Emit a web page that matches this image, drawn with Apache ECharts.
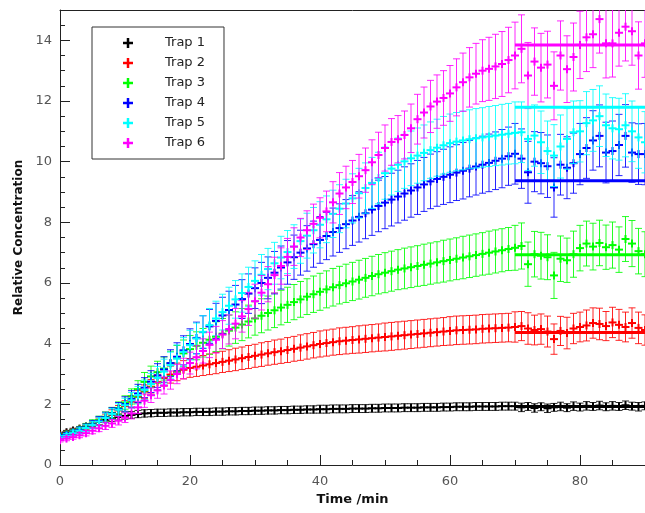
<!DOCTYPE html>
<html>
<head>
<meta charset="utf-8">
<script src="https://cdn.jsdelivr.net/npm/echarts@6/dist/echarts.min.js"></script>
<style>html,body{margin:0;padding:0;background:#fff}#c{width:645px;height:513px}</style>
</head>
<body>
<div id="c"></div>
<script>
const times = [0,1,2,3,4,5,6,7,8,9,10,11,12,13,14,15,16,17,18,19,20,21,22,23,24,25,26,27,28,29,30,31,32,33,34,35,36,37,38,39,40,41,42,43,44,45,46,47,48,49,50,51,52,53,54,55,56,57,58,59,60,61,62,63,64,65,66,67,68,69,70,71,72,73,74,75,76,77,78,79,80,81,82,83,84,85,86,87,88,89,90];
const seriesNames = ['Trap 1','Trap 2','Trap 3','Trap 4','Trap 5','Trap 6'];
const xTickValues = [0,20,40,60,80];
const yTickValues = [0,2,4,6,8,10,12,14];

const trap1 = [1.02,1.08,1.14,1.20,1.27,1.34,1.42,1.49,1.54,1.58,
 1.62,1.65,1.68,1.70,1.71,1.72,1.72,1.73,1.73,1.74,
 1.74,1.75,1.75,1.75,1.76,1.76,1.77,1.77,1.78,1.78,
 1.79,1.79,1.80,1.80,1.81,1.81,1.82,1.82,1.83,1.83,
 1.84,1.84,1.85,1.85,1.85,1.86,1.86,1.86,1.87,1.87,
 1.88,1.88,1.88,1.89,1.89,1.89,1.90,1.90,1.90,1.91,
 1.91,1.92,1.92,1.92,1.93,1.93,1.93,1.93,1.94,1.94,
 1.94,1.90,1.93,1.88,1.92,1.87,1.90,1.93,1.89,1.94,
 1.91,1.95,1.93,1.96,1.92,1.95,1.93,1.97,1.94,1.92,1.95];
const trap2 = [0.97,1.03,1.10,1.17,1.25,1.34,1.44,1.55,1.67,1.80,
 1.94,2.09,2.25,2.42,2.58,2.73,2.87,2.98,3.07,3.14,
 3.20,3.24,3.28,3.32,3.36,3.40,3.44,3.48,3.52,3.56,
 3.60,3.64,3.68,3.72,3.75,3.79,3.83,3.87,3.91,3.95,
 3.99,4.02,4.05,4.08,4.10,4.12,4.14,4.16,4.18,4.20,
 4.22,4.24,4.26,4.28,4.30,4.32,4.34,4.36,4.38,4.40,
 4.42,4.44,4.45,4.46,4.47,4.49,4.50,4.51,4.52,4.53,
 4.55,4.58,4.50,4.45,4.48,4.40,4.15,4.42,4.35,4.50,
 4.55,4.60,4.68,4.65,4.58,4.70,4.62,4.55,4.68,4.52,4.45];
const trap3 = [0.96,1.02,1.09,1.17,1.26,1.36,1.47,1.59,1.72,1.88,
 2.06,2.26,2.50,2.74,2.92,3.06,3.18,3.35,3.52,3.68,
 3.82,3.93,4.03,4.13,4.23,4.33,4.43,4.53,4.63,4.73,
 4.83,4.92,5.01,5.10,5.19,5.28,5.37,5.46,5.55,5.63,
 5.71,5.79,5.86,5.93,5.99,6.05,6.11,6.17,6.23,6.29,
 6.34,6.39,6.44,6.48,6.52,6.56,6.60,6.64,6.68,6.72,
 6.76,6.80,6.84,6.88,6.92,6.96,7.00,7.04,7.08,7.12,
 7.16,7.22,6.62,6.95,6.90,6.85,6.25,6.80,6.75,6.95,
 7.15,7.30,7.20,7.32,7.18,7.25,7.10,7.45,7.30,7.05,6.95];
const trap4 = [0.94,1.00,1.07,1.15,1.24,1.34,1.45,1.57,1.70,1.85,
 2.01,2.18,2.36,2.55,2.75,2.95,3.15,3.36,3.57,3.78,
 3.99,4.19,4.38,4.57,4.75,4.93,5.11,5.29,5.47,5.65,
 5.83,6.00,6.17,6.34,6.51,6.68,6.85,7.00,7.14,7.28,
 7.42,7.55,7.68,7.81,7.94,8.06,8.18,8.30,8.42,8.54,
 8.65,8.75,8.85,8.95,9.05,9.15,9.25,9.35,9.43,9.50,
 9.57,9.64,9.70,9.77,9.84,9.90,9.96,10.03,10.10,10.18,
 10.26,10.10,9.65,10.00,9.95,9.85,9.15,9.90,9.80,9.95,
 10.25,10.45,10.70,10.85,10.30,10.35,10.55,10.85,10.30,10.25,10.25];
const trap5 = [0.91,0.97,1.05,1.13,1.22,1.32,1.43,1.55,1.68,1.82,
 1.97,2.13,2.30,2.48,2.67,2.87,3.08,3.29,3.51,3.73,
 3.95,4.17,4.39,4.61,4.83,5.04,5.25,5.46,5.67,5.87,
 6.07,6.27,6.46,6.65,6.84,7.02,7.20,7.38,7.56,7.74,
 7.92,8.10,8.28,8.45,8.62,8.79,8.96,9.13,9.30,9.46,
 9.62,9.77,9.90,10.01,10.11,10.20,10.29,10.38,10.46,10.54,
 10.61,10.66,10.70,10.74,10.77,10.80,10.83,10.86,10.89,10.92,
 10.95,10.97,10.75,10.86,10.64,10.35,10.20,10.50,10.75,10.97,
 11.00,11.27,11.36,11.50,11.20,11.10,11.07,11.20,11.00,10.80,10.64];
const trap6 = [0.82,0.87,0.92,0.98,1.05,1.13,1.21,1.29,1.37,1.46,
 1.56,1.70,1.90,2.12,2.30,2.46,2.62,2.80,3.00,3.18,
 3.36,3.55,3.76,3.96,4.13,4.30,4.47,4.66,4.90,5.14,
 5.40,5.68,5.96,6.26,6.56,6.86,7.20,7.50,7.74,7.95,
 8.15,8.36,8.66,8.95,9.15,9.33,9.52,9.72,9.98,10.22,
 10.45,10.65,10.74,10.88,11.10,11.40,11.62,11.82,11.98,12.10,
 12.25,12.45,12.62,12.78,12.90,13.00,13.06,13.14,13.22,13.35,
 13.50,13.72,12.84,13.30,13.10,13.20,12.50,13.50,13.05,13.45,
 13.85,14.10,14.20,14.70,13.90,13.90,14.25,14.45,14.30,13.50,13.90];

const err1 = [0.06,0.06,0.07,0.07,0.08,0.08,0.09,0.09,0.10,0.10,
 0.11,0.11,0.12,0.12,0.12,0.12,0.12,0.12,0.12,0.12,
 0.12,0.12,0.12,0.12,0.12,0.12,0.12,0.12,0.12,0.12,
 0.12,0.12,0.12,0.12,0.12,0.12,0.12,0.12,0.12,0.12,
 0.13,0.13,0.13,0.13,0.13,0.13,0.13,0.13,0.13,0.13,
 0.13,0.13,0.13,0.13,0.13,0.13,0.13,0.13,0.13,0.13,
 0.13,0.13,0.13,0.13,0.13,0.13,0.13,0.13,0.13,0.13,
 0.13,0.14,0.13,0.14,0.13,0.14,0.13,0.14,0.13,0.14,
 0.13,0.14,0.13,0.14,0.13,0.14,0.13,0.14,0.13,0.14,0.13];
const err2 = [0.06,0.07,0.08,0.09,0.10,0.11,0.12,0.13,0.15,0.16,
 0.18,0.19,0.21,0.22,0.24,0.25,0.27,0.28,0.29,0.30,
 0.31,0.32,0.33,0.34,0.35,0.35,0.36,0.37,0.37,0.38,
 0.38,0.39,0.39,0.40,0.40,0.41,0.41,0.42,0.42,0.42,
 0.43,0.43,0.43,0.44,0.44,0.44,0.45,0.45,0.45,0.45,
 0.46,0.46,0.46,0.46,0.46,0.46,0.46,0.46,0.46,0.46,
 0.47,0.47,0.47,0.47,0.47,0.47,0.47,0.47,0.47,0.47,
 0.50,0.48,0.52,0.49,0.50,0.51,0.50,0.48,0.52,0.50,
 0.49,0.51,0.50,0.52,0.48,0.50,0.51,0.49,0.50,0.52,0.50];
const err3 = [0.06,0.07,0.08,0.10,0.11,0.13,0.14,0.16,0.18,0.20,
 0.22,0.25,0.28,0.31,0.34,0.36,0.38,0.40,0.42,0.44,
 0.45,0.46,0.47,0.48,0.49,0.50,0.51,0.52,0.53,0.54,
 0.55,0.56,0.56,0.57,0.57,0.58,0.58,0.59,0.59,0.60,
 0.61,0.61,0.62,0.62,0.63,0.63,0.64,0.64,0.65,0.65,
 0.66,0.66,0.66,0.67,0.67,0.67,0.68,0.68,0.68,0.69,
 0.69,0.69,0.70,0.70,0.70,0.70,0.71,0.71,0.71,0.71,
 0.74,0.76,0.73,0.75,0.77,0.74,0.76,0.75,0.73,0.76,
 0.75,0.74,0.77,0.75,0.73,0.76,0.75,0.74,0.76,0.75,0.74];
const err4 = [0.06,0.07,0.08,0.10,0.11,0.13,0.15,0.17,0.19,0.21,
 0.24,0.27,0.30,0.33,0.36,0.39,0.42,0.44,0.46,0.48,
 0.50,0.52,0.54,0.56,0.58,0.60,0.62,0.63,0.64,0.65,
 0.67,0.68,0.69,0.70,0.71,0.72,0.73,0.74,0.75,0.76,
 0.77,0.78,0.79,0.80,0.81,0.82,0.83,0.84,0.85,0.85,
 0.86,0.87,0.87,0.88,0.88,0.89,0.89,0.90,0.90,0.91,
 0.92,0.92,0.93,0.93,0.94,0.94,0.95,0.95,0.96,0.96,
 1.00,0.98,1.02,0.99,1.01,1.03,0.98,1.00,1.02,0.99,
 1.01,1.00,0.98,1.02,1.00,0.99,1.01,1.03,0.98,1.00,1.01];
const err5 = [0.06,0.07,0.08,0.09,0.11,0.12,0.14,0.16,0.18,0.20,
 0.23,0.26,0.29,0.32,0.35,0.38,0.41,0.43,0.45,0.47,
 0.49,0.51,0.53,0.55,0.57,0.59,0.61,0.62,0.63,0.65,
 0.66,0.67,0.68,0.69,0.70,0.71,0.72,0.73,0.74,0.75,
 0.76,0.77,0.78,0.79,0.80,0.81,0.82,0.83,0.84,0.85,
 0.86,0.87,0.88,0.89,0.90,0.91,0.92,0.93,0.94,0.95,
 0.96,0.96,0.97,0.97,0.98,0.98,0.99,0.99,1.00,1.00,
 1.02,1.00,1.04,1.01,1.03,0.99,1.02,1.04,1.00,1.03,
 1.01,1.04,1.02,1.00,1.03,1.01,1.02,1.04,1.00,1.02,1.01];
const err6 = [0.06,0.07,0.07,0.08,0.09,0.10,0.11,0.12,0.13,0.14,
 0.16,0.18,0.20,0.22,0.24,0.26,0.28,0.30,0.32,0.34,
 0.36,0.38,0.40,0.42,0.44,0.46,0.48,0.50,0.52,0.54,
 0.56,0.57,0.58,0.59,0.60,0.61,0.62,0.63,0.64,0.65,
 0.66,0.67,0.68,0.69,0.70,0.71,0.72,0.73,0.74,0.75,
 0.76,0.77,0.78,0.79,0.80,0.82,0.84,0.86,0.88,0.90,
 0.92,0.94,0.96,0.98,1.00,1.02,1.04,1.06,1.07,1.08,
 1.10,1.12,1.09,1.11,1.13,1.10,1.12,1.14,1.10,1.12,
 1.11,1.13,1.10,1.12,1.14,1.11,1.10,1.13,1.12,1.11,1.12];

const plateauStart = 70;
const plateauEnd = 90;
const plateauValues = [1.93, 4.37, 6.93, 9.37, 11.79, 13.85];

const colors = ['#000000','#ff0000','#00ff00','#0000ff','#00ffff','#ff00ff'];
const values = [trap1, trap2, trap3, trap4, trap5, trap6];
const errors = [err1, err2, err3, err4, err5, err6];

const FONT = 'DejaVu Sans';
const AX = '#222';

function errSeries(i) {
  const vals = values[i], errs = errors[i];
  return {
    type: 'custom',
    name: seriesNames[i],
    clip: true,
    itemStyle: { color: colors[i] },
    encode: { x: 0, y: 1 },
    data: times.map((t, k) => [t, vals[k], errs[k]]),
    renderItem: function (params, api) {
      const t = api.value(0), v = api.value(1), e = api.value(2);
      const c = api.coord([t, v]);
      const hi = api.coord([t, v + e]);
      const lo = api.coord([t, v - e]);
      const col = colors[i];
      const cw = 3.5, mw = 4;
      const thin = { stroke: col, lineWidth: 1, opacity: 0.85 };
      const thick = { stroke: col, lineWidth: 2 };
      return {
        type: 'group',
        children: [
          { type: 'line', shape: { x1: c[0], y1: hi[1], x2: c[0], y2: lo[1] }, style: thin },
          { type: 'line', shape: { x1: c[0] - cw, y1: hi[1], x2: c[0] + cw, y2: hi[1] }, style: thin },
          { type: 'line', shape: { x1: c[0] - cw, y1: lo[1], x2: c[0] + cw, y2: lo[1] }, style: thin },
          { type: 'line', shape: { x1: c[0] - mw, y1: c[1], x2: c[0] + mw, y2: c[1] }, style: thick },
          { type: 'line', shape: { x1: c[0], y1: c[1] - mw, x2: c[0], y2: c[1] + mw }, style: thick }
        ]
      };
    }
  };
}

function plateauSeries(i) {
  return {
    type: 'line',
    name: seriesNames[i] + ' plateau',
    data: [[plateauStart, plateauValues[i]], [plateauEnd, plateauValues[i]]],
    showSymbol: false,
    symbol: 'none',
    silent: true,
    lineStyle: { color: colors[i], width: 3 },
    itemStyle: { color: colors[i] },
    z: 3
  };
}

const series = [];
for (let i = 0; i < 6; i++) series.push(errSeries(i));
for (let i = 0; i < 6; i++) series.push(plateauSeries(i));

const chart = echarts.init(document.getElementById('c'), null, { renderer: 'canvas' });
chart.setOption({
  animation: false,
  backgroundColor: '#fff',
  grid: { left: 60, top: 10, width: 585, height: 455, outerBoundsMode: 'none', containLabel: false },
  legend: {
    data: seriesNames,
    orient: 'vertical',
    left: 92, top: 27,
    padding: [9, 19, 9, 31],
    itemWidth: 10, itemHeight: 10, itemGap: 6,
    icon: 'path://M3,0H5V3H8V5H5V8H3V5H0V3H3Z',
    selectedMode: false,
    borderColor: '#333', borderWidth: 1, borderRadius: 0,
    backgroundColor: '#fff',
    textStyle: { fontFamily: FONT, fontSize: 13, color: '#222', lineHeight: 14, padding: [0, 0, 0, 27] }
  },
  xAxis: [
    {
      type: 'value', min: 0, max: 90, interval: 20, position: 'bottom',
      axisLine: { onZero: false, lineStyle: { color: AX, width: 1 } },
      axisTick: { inside: true, length: 10, customValues: xTickValues, lineStyle: { color: AX } },
      axisLabel: { customValues: xTickValues, color: '#555', fontFamily: FONT, fontSize: 13, margin: 10 },
      splitLine: { show: false },
      name: 'Time /min', nameLocation: 'middle', nameGap: 28,
      nameTextStyle: { fontFamily: FONT, fontWeight: 'bold', fontSize: 13, color: '#111' }
    },
    {
      type: 'value', min: 0, max: 90, interval: 5, position: 'bottom',
      axisLine: { show: false, onZero: false },
      axisTick: { inside: true, length: 5, lineStyle: { color: AX } },
      axisLabel: { show: false }, splitLine: { show: false }
    },
    {
      type: 'value', min: 0, max: 90, position: 'top',
      axisLine: { onZero: false, lineStyle: { color: AX, width: 1 } },
      axisTick: { show: false }, axisLabel: { show: false }, splitLine: { show: false }
    }
  ],
  yAxis: [
    {
      type: 'value', min: 0, max: 15, interval: 2, position: 'left',
      axisLine: { onZero: false, lineStyle: { color: AX, width: 1 } },
      axisTick: { inside: true, length: 10, customValues: yTickValues, lineStyle: { color: AX } },
      axisLabel: { customValues: yTickValues, color: '#555', fontFamily: FONT, fontSize: 13, margin: 8 },
      splitLine: { show: false },
      name: 'Relative Concentration', nameLocation: 'middle', nameGap: 26,
      nameTextStyle: { fontFamily: FONT, fontWeight: 'bold', fontSize: 12, color: '#111' }
    },
    {
      type: 'value', min: 0, max: 15, interval: 0.5, position: 'left',
      axisLine: { show: false, onZero: false },
      axisTick: { inside: true, length: 5, lineStyle: { color: AX } },
      axisLabel: { show: false }, splitLine: { show: false }
    }
  ],
  series: series
});
</script>
</body>
</html>
